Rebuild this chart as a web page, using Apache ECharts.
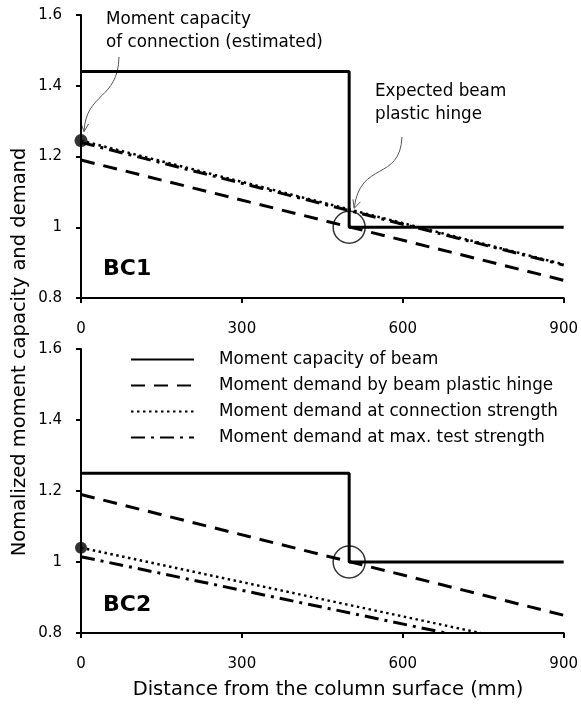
<!DOCTYPE html>
<html><head><meta charset="utf-8">
<script src="https://cdn.jsdelivr.net/npm/echarts@6/dist/echarts.min.js"></script>
<style>html,body{margin:0;padding:0;background:#fff}#c{width:581px;height:705px}</style>
</head><body><div id="c"></div>
<script>
// ---- data ----
const seriesNames = [
  'Moment capacity of beam',
  'Moment demand by beam plastic hinge',
  'Moment demand at connection strength',
  'Moment demand at max. test strength'
];
const xTickValues = [0, 300, 600, 900];
const yTickValues = [0.8, 1, 1.2, 1.4, 1.6];
// BC1 (top panel)
const bc1Capacity   = [[0, 1.44], [500, 1.44], [500, 1.0], [900, 1.0]];
const bc1HingeDem   = [[0, 1.19], [900, 0.85]];
const bc1ConnDem    = [[0, 1.245], [900, 0.895]];
const bc1TestDem    = [[0, 1.24], [900, 0.893]];
const bc1ConnPoint  = [[0, 1.245]];
const bc1HingePoint = [[500, 1.0]];
// BC2 (bottom panel)
const bc2Capacity   = [[0, 1.25], [500, 1.25], [500, 1.0], [900, 1.0]];
const bc2HingeDem   = [[0, 1.19], [900, 0.85]];
const bc2ConnDem    = [[0, 1.04], [745, 0.8]];
const bc2TestDem    = [[0, 1.015], [680, 0.8]];
const bc2ConnPoint  = [[0, 1.04]];
const bc2HingePoint = [[500, 1.0]];

const FONT = 'DejaVu Sans';
const styles = [
  {type: 'solid', width: 3},
  {type: [14, 9], width: 3},
  {type: [2.5, 3.5], width: 2.5},
  {type: [14, 6, 3, 6], width: 3}
];

function lineSeries(name, data, idx, styleIdx) {
  const s = styles[styleIdx];
  return {
    type: 'line', name: name, data: data, xAxisIndex: idx, yAxisIndex: idx,
    symbol: 'none', showSymbol: false, animation: false, silent: true,
    lineStyle: {color: '#000', width: s.width, type: s.type, cap: 'butt'},
    itemStyle: {color: '#000'}
  };
}
function xAxis(idx) {
  return {
    type: 'value', gridIndex: idx, min: 0, max: 900, interval: 300,
    axisLine: {lineStyle: {color: '#000', width: 2}},
    axisTick: {show: true, length: 5, lineStyle: {color: '#000', width: 2}},
    axisLabel: {margin: 24, fontSize: 15, color: '#000', fontFamily: FONT},
    splitLine: {show: false}
  };
}
function yAxis(idx) {
  return {
    type: 'value', gridIndex: idx, min: 0.8, max: 1.6, interval: 0.2,
    axisLine: {show: true, lineStyle: {color: '#000', width: 2}},
    axisTick: {show: true, length: 5, lineStyle: {color: '#000', width: 2}},
    axisLabel: {margin: 19, fontSize: 15, color: '#000', fontFamily: FONT,
      formatter: v => String(+v.toFixed(1))},
    splitLine: {show: false}
  };
}

const chart = echarts.init(document.getElementById('c'), null, {renderer: 'canvas'});
const series = [
  lineSeries(seriesNames[0], bc1Capacity, 0, 0),
  lineSeries(seriesNames[1], bc1HingeDem, 0, 1),
  lineSeries(seriesNames[2], bc1ConnDem, 0, 2),
  lineSeries(seriesNames[3], bc1TestDem, 0, 3),
  lineSeries(seriesNames[0], bc2Capacity, 1, 0),
  lineSeries(seriesNames[1], bc2HingeDem, 1, 1),
  lineSeries(seriesNames[2], bc2ConnDem, 1, 2),
  lineSeries(seriesNames[3], bc2TestDem, 1, 3),
  {type: 'scatter', data: bc1ConnPoint, xAxisIndex: 0, yAxisIndex: 0, symbolSize: 13,
   itemStyle: {color: '#000'}, silent: true, animation: false, z: 5},
  {type: 'scatter', data: bc2ConnPoint, xAxisIndex: 1, yAxisIndex: 1, symbolSize: 12,
   itemStyle: {color: '#000'}, silent: true, animation: false, z: 5},
  {type: 'scatter', data: bc1HingePoint, xAxisIndex: 0, yAxisIndex: 0, symbolSize: 32,
   itemStyle: {color: 'none', borderColor: '#000', borderWidth: 1.5}, silent: true, animation: false, z: 5},
  {type: 'scatter', data: bc2HingePoint, xAxisIndex: 1, yAxisIndex: 1, symbolSize: 32,
   itemStyle: {color: 'none', borderColor: '#000', borderWidth: 1.5}, silent: true, animation: false, z: 5}
];

chart.setOption({
  backgroundColor: '#fff',
  animation: false,
  grid: [
    {left: 81, top: 15, width: 483, height: 283},
    {left: 81, top: 349, width: 483, height: 284}
  ],
  xAxis: [xAxis(0), xAxis(1)],
  yAxis: [yAxis(0), yAxis(1)],
  legend: {
    data: seriesNames, orient: 'vertical', left: 130, top: 351, padding: 0,
    itemWidth: 63, itemHeight: 14, itemGap: 9, selectedMode: false,
    itemStyle: {opacity: 0},
    textStyle: {fontSize: 16.8, lineHeight: 14, color: '#000', fontFamily: FONT, padding: [0, 0, 0, 20]}
  },
  series: series
});

// annotations anchored to data positions
const p1 = chart.convertToPixel({xAxisIndex: 0, yAxisIndex: 0}, bc1ConnPoint[0]);
const h1 = chart.convertToPixel({xAxisIndex: 0, yAxisIndex: 0}, bc1HingePoint[0]);
const arrowColor = '#555';
function arrowHead(tx, ty, ang) {
  const L = 9, a = 0.45;
  return {type: 'polyline', silent: true, shape: {points: [
    [tx - L * Math.cos(ang - a), ty - L * Math.sin(ang - a)], [tx, ty],
    [tx - L * Math.cos(ang + a), ty - L * Math.sin(ang + a)]]},
    style: {stroke: arrowColor, lineWidth: 1, fill: null}};
}
const t1 = [p1[0] + 3, p1[1] - 9];
const t2 = [h1[0] + 5, h1[1] - 19];
chart.setOption({
  graphic: [
    {type: 'text', left: 106, top: 8, silent: true,
     style: {text: 'Moment capacity\nof connection (estimated)', font: '16.8px "DejaVu Sans"', lineHeight: 23, fill: '#000'}},
    {type: 'text', left: 375, top: 80, silent: true,
     style: {text: 'Expected beam\nplastic hinge', font: '16.8px "DejaVu Sans"', lineHeight: 23, fill: '#000'}},
    {type: 'text', left: 103, top: 258, silent: true,
     style: {text: 'BC1', font: 'bold 22px "DejaVu Sans"', fill: '#000'}},
    {type: 'text', left: 103, top: 594, silent: true,
     style: {text: 'BC2', font: 'bold 22px "DejaVu Sans"', fill: '#000'}},
    {type: 'text', silent: true, x: 20, y: 352, rotation: Math.PI / 2,
     style: {text: 'Nomalized moment capacity and demand', font: '19.5px "DejaVu Sans"', fill: '#000', align: 'center', verticalAlign: 'middle'}},
    {type: 'text', silent: true, x: 328, y: 690,
     style: {text: 'Distance from the column surface (mm)', font: '19.5px "DejaVu Sans"', fill: '#000', align: 'center', verticalAlign: 'middle'}},
    {type: 'bezierCurve', silent: true,
     shape: {x1: 119, y1: 57, cpx1: 118, cpy1: 100, cpx2: 86, cpy2: 92, x2: t1[0], y2: t1[1]},
     style: {stroke: arrowColor, lineWidth: 1, fill: null}},
    arrowHead(t1[0], t1[1], Math.atan2(t1[1] - 110, t1[0] - 86)),
    {type: 'bezierCurve', silent: true,
     shape: {x1: 402, y1: 137, cpx1: 400, cpy1: 182, cpx2: 360, cpy2: 160, x2: t2[0], y2: t2[1]},
     style: {stroke: arrowColor, lineWidth: 1, fill: null}},
    arrowHead(t2[0], t2[1], Math.atan2(t2[1] - 185, t2[0] - 362))
  ]
});
</script></body></html>
